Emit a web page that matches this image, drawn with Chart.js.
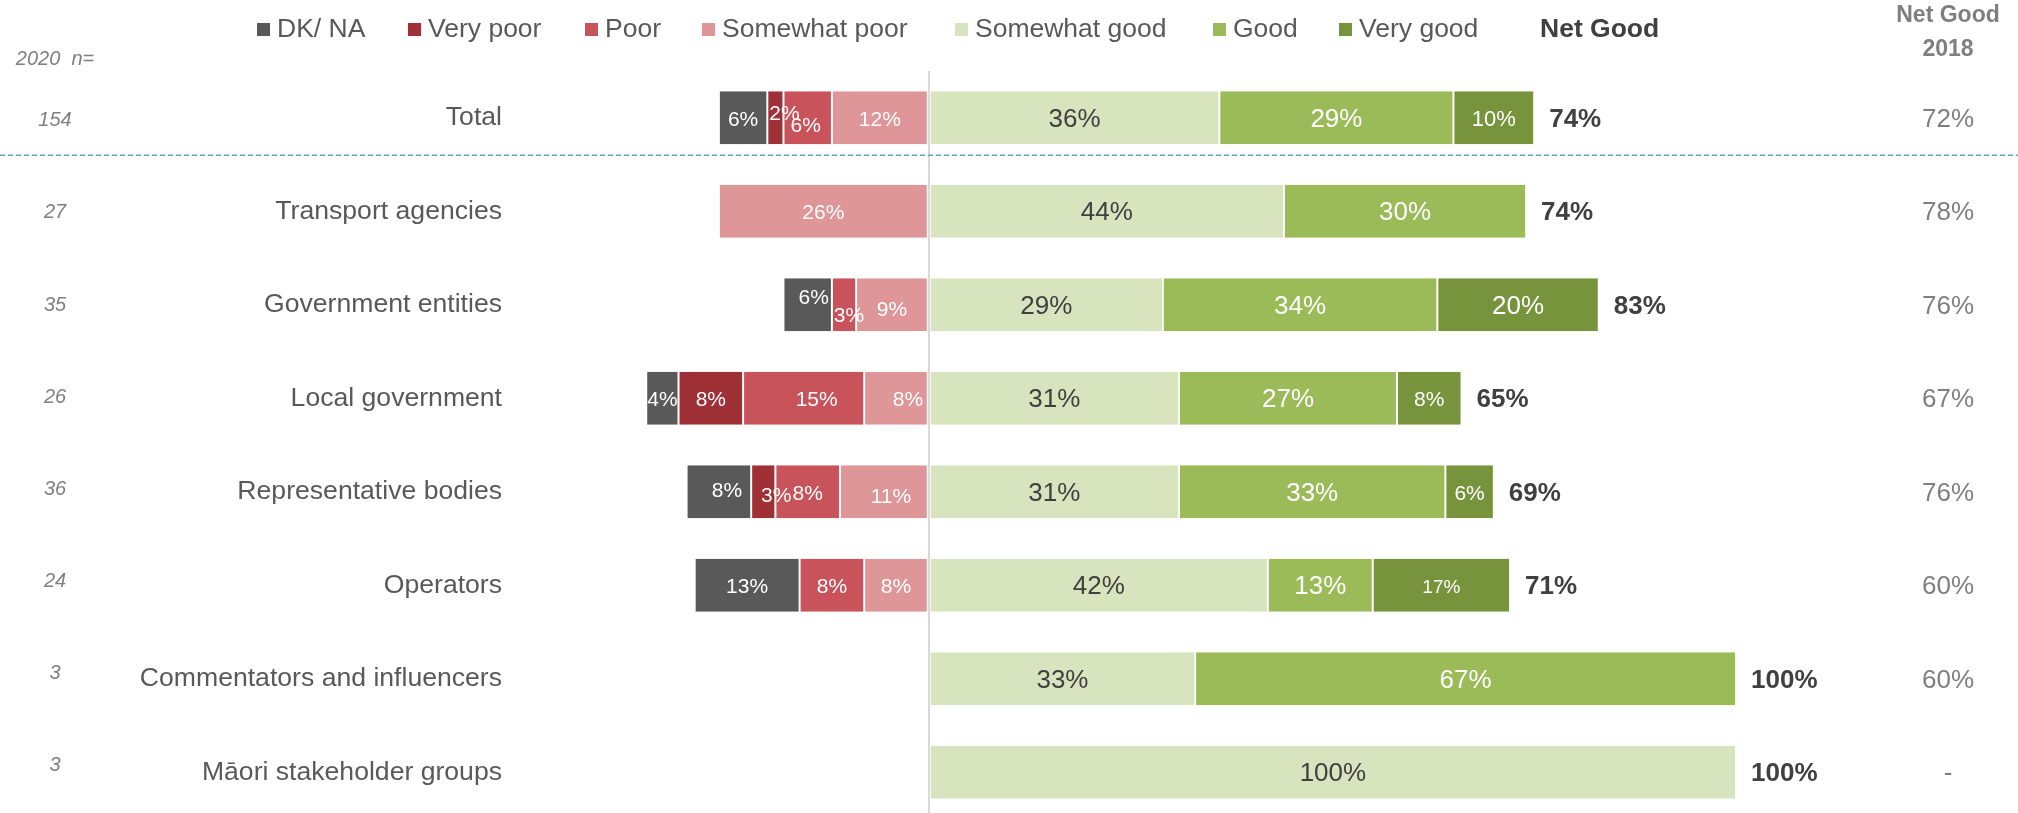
<!DOCTYPE html>
<html>
<head>
<meta charset="utf-8">
<script src="https://cdn.jsdelivr.net/npm/chart.js@4/dist/chart.umd.min.js"></script>
<style>
  html, body { margin: 0; padding: 0; background: #fff; overflow: hidden; }
  #wrap { width: 2018px; height: 842px; }
</style>
</head>
<body>
<div id="wrap"><canvas id="rating-chart" width="2018" height="842"></canvas></div>
<script>
// ── data ──
const categories = ['Total', 'Transport agencies', 'Government entities', 'Local government',
  'Representative bodies', 'Operators', 'Commentators and influencers', 'Māori stakeholder groups'];
const sampleSizes = ['154', '27', '35', '26', '36', '24', '3', '3'];

const dkNa         = [6, 0, 6, 4, 8, 13, 0, 0];
const veryPoor     = [2, 0, 0, 8, 3, 0, 0, 0];
const poor         = [6, 0, 3, 15, 8, 8, 0, 0];
const somewhatPoor = [12, 26, 9, 8, 11, 8, 0, 0];
const somewhatGood = [36, 44, 29, 31, 31, 42, 33, 100];
const good         = [29, 30, 34, 27, 33, 13, 67, 0];
const veryGood     = [10, 0, 20, 8, 6, 17, 0, 0];

const netGood     = [74, 74, 83, 65, 69, 71, 100, 100];
const netGood2018 = ['72%', '78%', '76%', '67%', '76%', '60%', '60%', '-'];

const legendOrder = ['DK/ NA', 'Very poor', 'Poor', 'Somewhat poor', 'Somewhat good', 'Good', 'Very good'];

// ── styling ──
const FONT = '"Liberation Sans", Arial, sans-serif';
const TEXT = '#595959';
const MUTED = '#7f7f7f';
const DARK = '#404040';

// negatives stack outward from zero, so the nearest-to-zero series goes first
const series = [
  { label: 'Somewhat poor', values: somewhatPoor, color: '#df9699', sign: -1, text: '#fff', size: 21 },
  { label: 'Poor',          values: poor,         color: '#c9535a', sign: -1, text: '#fff', size: 21 },
  { label: 'Very poor',     values: veryPoor,     color: '#9e3036', sign: -1, text: '#fff', size: 21 },
  { label: 'DK/ NA',        values: dkNa,         color: '#595959', sign: -1, text: '#fff', size: 21 },
  { label: 'Somewhat good', values: somewhatGood, color: '#d8e4bd', sign: 1,  text: DARK,   size: 26 },
  { label: 'Good',          values: good,         color: '#9bbb59', sign: 1,  text: '#fff', size: 26 },
  { label: 'Very good',     values: veryGood,     color: '#77933c', sign: 1,  text: '#fff', size: 21 }
];

// a few labels sit off-centre or at another size in the printed report
const labelNudges = {
  'Total|Very poor': [9, -6],
  'Total|Poor': [-2, 6],
  'Government entities|DK/ NA': [6, -9],
  'Government entities|Poor': [5, 9],
  'Government entities|Somewhat poor': [0, 3],
  'Local government|Poor': [13, 0],
  'Local government|Somewhat poor': [12, 0],
  'Representative bodies|DK/ NA': [8, -3],
  'Representative bodies|Very poor': [13, 2],
  'Representative bodies|Somewhat poor': [7, 3]
};
const labelSizes = {
  'Total|Very good': 22,
  'Government entities|Very good': 26,
  'Operators|Very good': 19
};

const legendX = [257, 408, 585, 702, 955, 1213, 1339];

const segmentLabels = {
  id: 'segmentLabels',
  afterDatasetsDraw(chart) {
    const { ctx } = chart;
    ctx.save();
    ctx.textAlign = 'center';
    ctx.textBaseline = 'middle';
    chart.data.datasets.forEach((ds, di) => {
      const meta = chart.getDatasetMeta(di);
      const s = series[di];
      meta.data.forEach((bar, i) => {
        const v = s.values[i];
        if (!v) return;
        const key = categories[i] + '|' + s.label;
        const [dx, dy] = labelNudges[key] || [0, 0];
        ctx.font = (labelSizes[key] || s.size) + 'px ' + FONT;
        ctx.fillStyle = s.text;
        ctx.fillText(v + '%', (bar.x + bar.base) / 2 + dx, bar.y + 2 + dy);
      });
    });

    // net good totals sit just past the end of each positive stack
    const x = chart.scales.x;
    const y = chart.scales.y;
    ctx.textAlign = 'left';
    ctx.font = 'bold 26px ' + FONT;
    ctx.fillStyle = DARK;
    netGood.forEach((v, i) => {
      let end = x.getPixelForValue(0);
      chart.data.datasets.forEach((ds, di) => {
        if (series[di].sign > 0 && series[di].values[i]) {
          end = Math.max(end, chart.getDatasetMeta(di).data[i].x);
        }
      });
      ctx.fillText(v + '%', end + 15, y.getPixelForValue(i) + 2);
    });
    ctx.restore();
  },
  afterDraw(chart) {
    const { ctx } = chart;
    const y = chart.scales.y;
    ctx.save();

    // dashed separator under the Total row
    const sepY = y.getPixelForValue(0) + (y.getPixelForValue(1) - y.getPixelForValue(0)) * 0.4;
    ctx.strokeStyle = '#5ea8bb';
    ctx.lineWidth = 1.5;
    ctx.setLineDash([5, 3]);
    ctx.beginPath();
    ctx.moveTo(0, sepY);
    ctx.lineTo(chart.width, sepY);
    ctx.stroke();
    ctx.setLineDash([]);

    // sample sizes (their column runs on a slightly tighter pitch than the rows)
    ctx.textAlign = 'center';
    ctx.textBaseline = 'middle';
    ctx.fillStyle = MUTED;
    ctx.font = 'italic 20px ' + FONT;
    ctx.fillText('2020  n=', 55, 59);
    sampleSizes.forEach((n, i) => ctx.fillText(n, 55, y.getPixelForValue(i) + 3 - 1.35 * i));

    // 2018 comparison column
    ctx.font = 'bold 23px ' + FONT;
    ctx.fillText('Net Good', 1948, 16);
    ctx.fillText('2018', 1948, 50);
    ctx.font = '26px ' + FONT;
    netGood2018.forEach((t, i) => ctx.fillText(t, 1948, y.getPixelForValue(i) + 2));

    // legend
    ctx.textAlign = 'left';
    ctx.font = '26.5px ' + FONT;
    legendOrder.forEach((name, k) => {
      const s = series.find(d => d.label === name);
      ctx.fillStyle = s.color;
      ctx.fillRect(legendX[k], 23, 13, 13);
      ctx.fillStyle = TEXT;
      ctx.fillText(name, legendX[k] + 20, 30);
    });
    ctx.font = 'bold 26.5px ' + FONT;
    ctx.fillStyle = DARK;
    ctx.fillText('Net Good', 1540, 30);
    ctx.restore();
  }
};

new Chart(document.getElementById('rating-chart'), {
  type: 'bar',
  data: {
    labels: categories,
    datasets: series.map(s => ({
      label: s.label,
      data: s.values.map(v => v * s.sign),
      backgroundColor: s.color,
      borderColor: '#fff',
      borderWidth: { left: 1, right: 1, top: 0, bottom: 0 },
      borderSkipped: false,
      barPercentage: 0.565,
      categoryPercentage: 1
    }))
  },
  options: {
    indexAxis: 'y',
    responsive: false,
    animation: false,
    layout: { autoPadding: false, padding: { top: 71, right: 282, left: 0, bottom: 0 } },
    plugins: { legend: { display: false }, tooltip: { enabled: false } },
    scales: {
      x: {
        stacked: true, min: -52, max: 100,
        afterBuildTicks: s => { s.ticks = [{ value: 0 }]; },
        afterFit: s => { s.height = 0; },
        ticks: { display: false },
        border: { display: false },
        grid: { color: '#d9d9d9', lineWidth: 2, drawTicks: false }
      },
      y: {
        stacked: true,
        afterFit: s => { s.width = 509; },
        ticks: { color: TEXT, font: { family: FONT, size: 26.6 }, padding: 7 },
        border: { display: false },
        grid: { display: false, drawTicks: false }
      }
    }
  },
  plugins: [segmentLabels]
});
</script>
</body>
</html>
